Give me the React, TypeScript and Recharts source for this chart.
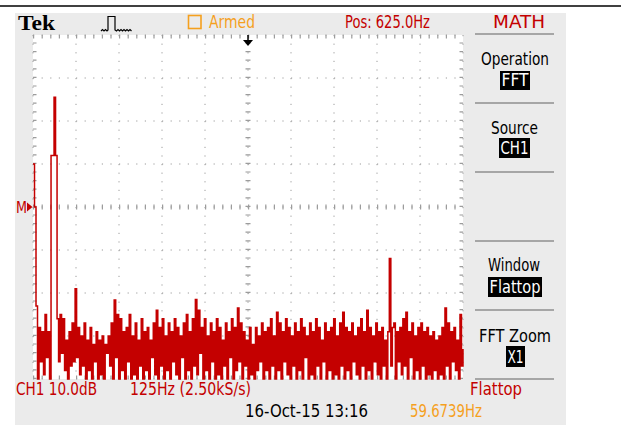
import React from "react";
import { LineChart, Line, XAxis, YAxis, CartesianGrid, ReferenceLine } from "recharts";

// Frequency axis: 125 Hz/div, 10 divisions
const FREQ_TICKS = [0, 125, 250, 375, 500, 625, 750, 875, 1000, 1125, 1250];
// Amplitude axis: 10 dB/div, 8 divisions (dB above bottom of screen)
const DB_TICKS = [0, 10, 20, 30, 40, 50, 60, 70, 80];

// FFT display record (dB above screen bottom), min/max samples as drawn by the scope
const FFT_DB = [
  50, 40, 17, 0, 12, 4, 11, 1, 15, 5, 11, 0,
  52, 52, 65.5, 52,
  14, 4, 15, 6, 14, 2, 9, 0, 11, 3, 13, 4, 21, 5,
  12, 1, 10, 3, 13, 0, 9, 2, 12, 0, 8, 4, 11, 0, 9, 1, 10, 0, 8, 6,
  10, 3, 13, 0, 18.4, 5, 15, 0, 14, 2, 11, 0, 12, 4, 15, 0, 10, 1, 13, 0,
  9, 3, 14, 0, 11, 2, 12, 0, 9, 5, 13, 1, 16, 0, 12, 3, 14, 0, 10, 2,
  13, 0, 11, 4, 14, 1, 12, 0, 10, 5, 13, 0, 15, 2, 11, 0, 14, 3, 18.5, 1,
  16, 6, 12, 0, 14, 2, 10, 0, 13, 4, 11, 0, 14, 1, 12, 0, 9, 3, 13, 0,
  11, 5, 14, 0, 12, 2, 16.5, 4, 13, 0, 11, 3, 9, 0, 12, 1, 8, 0, 12, 2,
  10, 4, 13, 0, 11, 2, 12, 0, 14, 3, 10, 0, 15.5, 2, 13, 0, 11, 4, 14, 1,
  12, 0, 10, 3, 13, 0, 11, 2, 14, 0, 12, 5, 10, 0, 13, 1, 11, 0, 14, 3,
  12, 0, 9, 4, 13, 0, 11, 2, 12, 0, 14, 1, 10, 0, 13, 3, 15.5, 0, 12, 2,
  11, 0, 13, 4, 10, 1, 12, 0, 14, 3, 11, 0, 16, 2, 12, 0, 10, 4, 13, 1,
  11, 0, 12, 3, 9, 0,
  11, 28, 3, 12,
  13, 0, 11, 4, 12, 1, 14, 3, 15.5, 0, 11, 5, 13, 0, 10, 2, 12, 0, 13, 3,
  11, 0, 12, 1, 10, 0, 11, 2, 9, 0, 10, 1, 12, 0, 16.5, 3, 13, 0, 11, 4,
  12, 2, 9, 0, 15, 3, 7,
];

const SPAN_HZ = 1250;
const data = FFT_DB.map((v, i) => ({ f: (i * SPAN_HZ) / (FFT_DB.length - 1), db: v }));

const RED = "#c40000";
const ORANGE = "#f5a01e";
const GRID = "#9c9c9c";
const FONT = "'DejaVu Sans Condensed', 'DejaVu Sans', sans-serif";

type T = { t: string; x: number; y: number; w: number; c: string; s?: number };
const LABELS: T[] = [
  { t: "Armed", x: 209, y: 28, w: 46, c: ORANGE },
  { t: "Pos: 625.0Hz", x: 345, y: 28, w: 85, c: RED },
  { t: "MATH", x: 493, y: 28, w: 52, c: RED },
  { t: "Operation", x: 481, y: 65, w: 68, c: "#000" },
  { t: "Source", x: 491, y: 134, w: 47, c: "#000" },
  { t: "Window", x: 488, y: 271, w: 52, c: "#000" },
  { t: "FFT Zoom", x: 479, y: 342, w: 72, c: "#000" },
  { t: "CH1 10.0dB", x: 16, y: 395, w: 81, c: RED },
  { t: "125Hz (2.50kS/s)", x: 130, y: 395, w: 121, c: RED },
  { t: "Flattop", x: 470, y: 395, w: 52, c: RED },
  { t: "16-Oct-15 13:16", x: 245, y: 417, w: 123, c: "#000" },
  { t: "59.6739Hz", x: 410, y: 417, w: 72, c: ORANGE },
];

type B = { t: string; x: number; y: number; w: number; h: number };
const BOXES: B[] = [
  { t: "FFT", x: 500, y: 71, w: 30, h: 19 },
  { t: "CH1", x: 499, y: 138, w: 31, h: 20 },
  { t: "Flattop", x: 488, y: 277, w: 54, h: 20 },
  { t: "X1", x: 506, y: 346, w: 19, h: 21 },
];

const SEPARATORS = [34, 103, 172, 241, 310, 379];

export default function App() {
  return (
    <div style={{ position: "absolute", left: 0, top: 0, width: 624, height: 425, background: "#fff", overflow: "hidden" }}>
      <svg width={624} height={425} style={{ position: "absolute", left: 0, top: 0 }}>
        <line x1={0} y1={6} x2={621} y2={6} stroke="#000" strokeWidth={1.5} />
        <rect x={15} y={13} width={551} height={412} fill="#ebebeb" />
        <rect x={33} y={35} width={430} height={344} fill="#fff" />
      </svg>
      <div style={{ position: "absolute", left: 0, top: 0 }}>
        <LineChart width={624} height={425} data={data} margin={{ top: 35, left: 33, right: 161, bottom: 46 }}>
          <XAxis type="number" dataKey="f" domain={[0, 1250]} ticks={FREQ_TICKS} hide />
          <YAxis type="number" domain={[0, 80]} ticks={DB_TICKS} hide />
          <CartesianGrid stroke={GRID} strokeDasharray="1.2 7.4" fill="#fff" />
          <ReferenceLine x={625} stroke={GRID} strokeWidth={5} strokeDasharray="1.2 7.4" />
          <ReferenceLine y={40} stroke={GRID} strokeWidth={5} strokeDasharray="1.2 7.4" />
          <ReferenceLine x={0} stroke={GRID} strokeWidth={7} strokeDasharray="1.2 7.4" ifOverflow="hidden" />
          <ReferenceLine x={1250} stroke={GRID} strokeWidth={7} strokeDasharray="1.2 7.4" ifOverflow="hidden" />
          <ReferenceLine y={0} stroke={GRID} strokeWidth={7} strokeDasharray="1.2 7.4" ifOverflow="hidden" />
          <ReferenceLine y={80} stroke={GRID} strokeWidth={7} strokeDasharray="1.2 7.4" ifOverflow="hidden" />
          <Line dataKey="db" type="stepAfter" stroke={RED} strokeWidth={1.5} dot={false} isAnimationActive={false} />
        </LineChart>
      </div>
      <svg width={624} height={425} style={{ position: "absolute", left: 0, top: 0, pointerEvents: "none" }}>
        <text x={18} y={30} fontFamily="'Liberation Serif', serif" fontWeight="bold" fontSize={21} textLength={37} lengthAdjust="spacingAndGlyphs" fill="#000">Tek</text>
        <path d="M101 31 l1.5 -1.5 l1.5 1.5 l1.5 -1.5 l1.5 1.5 l1 -1 V16.5 H115 V30 l1.5 1 l1.5 -1.5 l1.5 1.5 l1.5 -1.5 l1.5 1.5 l1.5 -1.5 l1.5 1.5 l1.5 -1.5 l1.5 1.5 l1.5 -1.5 l1.5 1.5" fill="none" stroke="#000" strokeWidth={1.2} />
        <rect x={188.5} y={15.5} width={12.5} height={13} fill="none" stroke={ORANGE} strokeWidth={1.6} />
        <line x1={248} y1={35} x2={248} y2={41} stroke="#000" strokeWidth={1.5} />
        <polygon points="243,40 253,40 248,46" fill="#000" />
        <text x={16} y={213} fontFamily={FONT} fontSize={16} fill={RED} textLength={11} lengthAdjust="spacingAndGlyphs">M</text>
        <polygon points="27,202.5 32.5,207 27,211.5" fill={RED} />
        {SEPARATORS.map((y) => (
          <line key={y} x1={475} y1={y} x2={554} y2={y} stroke="#a6a6a6" strokeWidth={2} />
        ))}
        {LABELS.map((l) => (
          <text key={l.t + l.x} x={l.x} y={l.y} fontFamily={FONT} fontSize={l.s ?? 18} fill={l.c} textLength={l.w} lengthAdjust="spacingAndGlyphs">{l.t}</text>
        ))}
        {BOXES.map((b) => (
          <g key={b.t + b.y}>
            <rect x={b.x} y={b.y} width={b.w} height={b.h} fill="#000" />
            <text x={b.x + 1.5} y={b.y + b.h - 4} fontFamily={FONT} fontSize={17} fill="#fff" textLength={b.w - 3} lengthAdjust="spacingAndGlyphs">{b.t}</text>
          </g>
        ))}
      </svg>
    </div>
  );
}
